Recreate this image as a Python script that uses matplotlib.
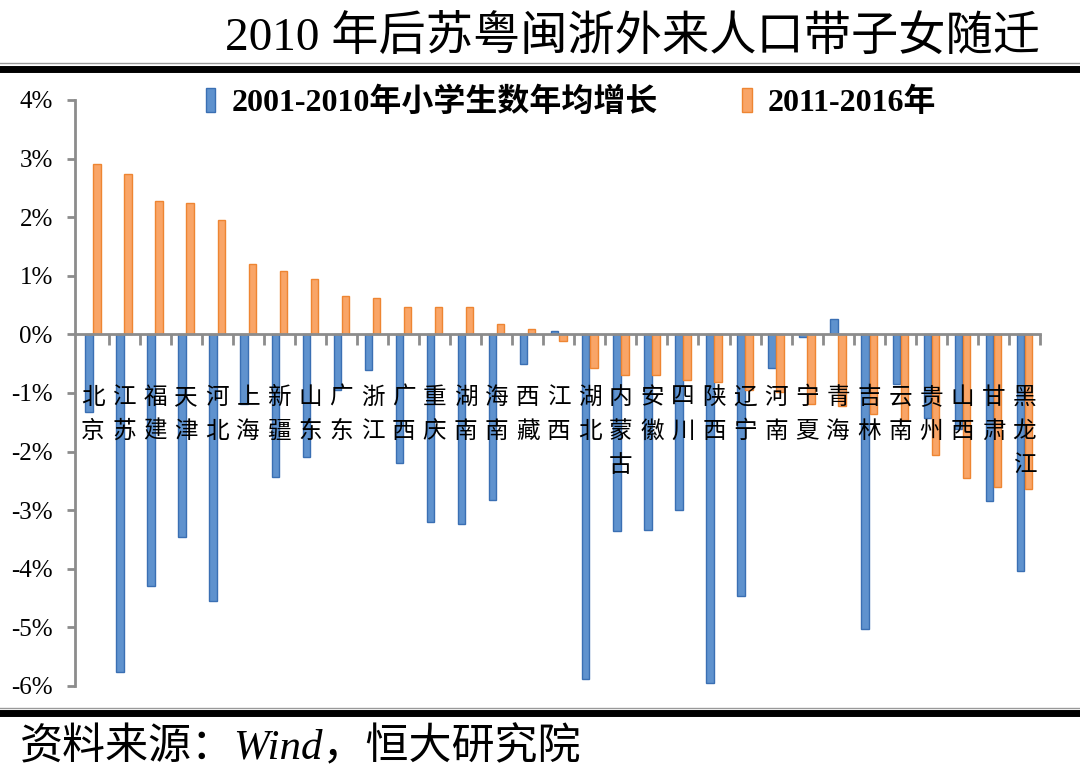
import matplotlib
matplotlib.use('Agg')
import matplotlib.pyplot as plt
from matplotlib.patches import Patch
from matplotlib.lines import Line2D
import numpy as np

plt.rcParams['font.family'] = ['Liberation Serif', 'Noto Sans CJK SC', 'DejaVu Sans']
plt.rcParams['axes.unicode_minus'] = False

provinces = ['北京', '江苏', '福建', '天津', '河北', '上海', '新疆', '山东', '广东', '浙江',
             '广西', '重庆', '湖南', '海南', '西藏', '江西', '湖北', '内蒙古', '安徽', '四川',
             '陕西', '辽宁', '河南', '宁夏', '青海', '吉林', '云南', '贵州', '山西', '甘肃', '黑龙江']
g_0110 = [-1.32, -5.76, -4.30, -3.45, -4.55, -1.18, -2.44, -2.10, -0.95, -0.61,
          -2.20, -3.20, -3.23, -2.82, -0.50, 0.05, -5.88, -3.36, -3.33, -3.00,
          -5.95, -4.47, -0.58, -0.05, 0.27, -5.02, -0.84, -1.43, -1.62, -2.85, -4.03]
g_1116 = [2.90, 2.73, 2.27, 2.24, 1.95, 1.20, 1.09, 0.95, 0.66, 0.62,
          0.46, 0.46, 0.46, 0.18, 0.09, -0.11, -0.58, -0.69, -0.69, -0.77,
          -0.81, -0.95, -0.98, -1.18, -1.23, -1.36, -1.46, -2.06, -2.45, -2.60, -2.63]
series_names = ['2001-2010年小学生数年均增长', '2011-2016年']
yticks = [4, 3, 2, 1, 0, -1, -2, -3, -4, -5, -6]

blue_face, blue_edge = '#5F92CE', '#3A6FB3'
orange_face, orange_edge = '#F9A567', '#EE8532'
grey = '#8C8C8C'

fig = plt.figure(figsize=(10.8, 7.84), dpi=100)
ax = fig.add_axes([75 / 1080, 1 - 686 / 784, (1040 - 75) / 1080, (686 - 100) / 784])

x = np.arange(len(provinces))
w = 0.24
ax.bar(x - w / 2 - 0.01, g_0110, width=w, color=blue_face, edgecolor=blue_edge, linewidth=1, zorder=2)
ax.bar(x + w / 2 + 0.01, g_1116, width=w, color=orange_face, edgecolor=orange_edge, linewidth=1, zorder=2)

ax.set_xlim(-0.58, len(provinces) - 0.5)
ax.set_ylim(-6, 4)

ax.spines['top'].set_visible(False)
ax.spines['right'].set_visible(False)
ax.spines['bottom'].set_position(('data', 0))
for s in ['left', 'bottom']:
    ax.spines[s].set_color(grey)
    ax.spines[s].set_linewidth(2)

ax.set_xticks(x + 0.5)
ax.set_xticklabels([])
ax.tick_params(axis='x', direction='out', length=8, width=2, color=grey)
ax.set_yticks(yticks)
ax.set_yticklabels(['%d%%' % v for v in yticks], fontsize=18, family='Liberation Serif')
ax.tick_params(axis='y', direction='out', length=6, width=2, color=grey, pad=10)

for i, name in enumerate(provinces):
    ax.text(i, -0.88, '\n'.join(name), ha='center', va='top', fontsize=17,
            family=['Noto Sans CJK SC'], linespacing=1.6, zorder=3)

handles = [Patch(facecolor=blue_face, edgecolor=blue_edge), Patch(facecolor=orange_face, edgecolor=orange_edge)]
fig.legend(handles, series_names, loc='center', bbox_to_anchor=(571 / 1080, 1 - 103 / 784), ncol=2,
           frameon=False, handlelength=0.3, handleheight=0.75, handletextpad=0.5, columnspacing=2.65,
           prop={'family': ['Liberation Serif', 'Noto Sans CJK SC'], 'weight': 'bold', 'size': 23})

# title and rules
fig.text(1040 / 1080, 1 - 38 / 784, '2010 年后苏粤闽浙外来人口带子女随迁', ha='right', va='center',
         fontsize=34, family=['Liberation Serif', 'Noto Sans CJK SC'])
fig.add_artist(Line2D([0, 1], [1 - 63 / 784, 1 - 63 / 784], color='#999999', lw=1))
fig.add_artist(Line2D([0, 1], [1 - 68.5 / 784, 1 - 68.5 / 784], color='black', lw=5))
fig.add_artist(Line2D([0, 1], [1 - 708 / 784, 1 - 708 / 784], color='#999999', lw=1))
fig.add_artist(Line2D([0, 1], [1 - 713 / 784, 1 - 713 / 784], color='black', lw=5))

fig.text(20 / 1080, 1 - 748 / 784, '资料来源：Wind，恒大研究院', ha='left', va='center',
         fontsize=31, style='italic', family=['Liberation Serif', 'Noto Sans CJK SC'])

fig.savefig('out.png', dpi=100)
